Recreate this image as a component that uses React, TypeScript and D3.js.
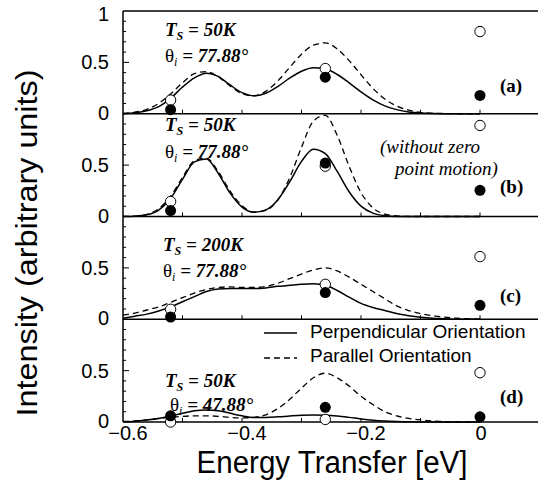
import React from "react";
import * as d3 from "d3";

// energy grid of the computed curves (eV)
const energies = [
  -0.6, -0.58, -0.56, -0.54, -0.52, -0.5, -0.48, -0.46, -0.44, -0.42, -0.4,
  -0.38, -0.36, -0.34, -0.32, -0.3, -0.28, -0.26, -0.24, -0.22, -0.2, -0.18,
  -0.16, -0.14, -0.12, -0.1, -0.08, -0.06, -0.04, -0.02, 0,
];

// perpendicular orientation (solid)
const perpA = [0, 0.01, 0.03, 0.07, 0.15, 0.26, 0.35, 0.395, 0.363, 0.28, 0.206, 0.175, 0.2, 0.265, 0.346, 0.414, 0.448, 0.437, 0.382, 0.301, 0.213, 0.135, 0.077, 0.04, 0.018, 0.008, 0.003, 0, 0, 0, 0];
const perpB = [0, 0.003, 0.016, 0.062, 0.177, 0.362, 0.531, 0.559, 0.421, 0.227, 0.092, 0.041, 0.064, 0.161, 0.336, 0.536, 0.655, 0.612, 0.439, 0.241, 0.101, 0.033, 0.008, 0.001, 0, 0, 0, 0, 0, 0, 0];
const perpC = [0.01, 0.03, 0.05, 0.08, 0.12, 0.17, 0.22, 0.27, 0.295, 0.3, 0.3, 0.3, 0.305, 0.32, 0.33, 0.34, 0.345, 0.33, 0.28, 0.215, 0.155, 0.115, 0.085, 0.055, 0.035, 0.02, 0.01, 0.005, 0, 0, 0];
const perpD = [0.003, 0.008, 0.02, 0.035, 0.058, 0.085, 0.11, 0.118, 0.11, 0.085, 0.06, 0.045, 0.045, 0.05, 0.058, 0.065, 0.068, 0.066, 0.058, 0.045, 0.03, 0.018, 0.01, 0.005, 0.002, 0, 0, 0, 0, 0, 0];

// parallel orientation (dashed)
const paraA = [0.004, 0.015, 0.043, 0.1, 0.193, 0.3, 0.39, 0.41, 0.36, 0.27, 0.195, 0.173, 0.218, 0.318, 0.45, 0.58, 0.668, 0.69, 0.631, 0.517, 0.38, 0.247, 0.144, 0.075, 0.035, 0.014, 0.005, 0.002, 0, 0, 0];
const paraB = [0.001, 0.004, 0.021, 0.075, 0.197, 0.381, 0.543, 0.569, 0.438, 0.248, 0.105, 0.044, 0.059, 0.16, 0.375, 0.674, 0.928, 0.985, 0.79, 0.489, 0.232, 0.084, 0.023, 0.005, 0, 0, 0, 0, 0, 0, 0];
const paraC = [0.04, 0.06, 0.09, 0.12, 0.165, 0.21, 0.255, 0.29, 0.31, 0.315, 0.31, 0.31, 0.32, 0.35, 0.395, 0.44, 0.48, 0.5, 0.47, 0.41, 0.34, 0.27, 0.2, 0.13, 0.085, 0.055, 0.035, 0.02, 0.01, 0.005, 0];
const paraD = [0.005, 0.01, 0.02, 0.035, 0.045, 0.055, 0.06, 0.06, 0.055, 0.045, 0.04, 0.045, 0.07, 0.13, 0.22, 0.33, 0.43, 0.475, 0.43, 0.35, 0.25, 0.17, 0.1, 0.06, 0.035, 0.02, 0.01, 0.005, 0, 0, 0];

// measured points
const markerEnergies = [-0.52, -0.26, 0];
const openA = [0.133, 0.44, 0.8];
const filledA = [0.04, 0.356, 0.178];
const openB = [0.146, 0.49, 0.886];
const filledB = [0.058, 0.52, 0.255];
const openC = [0.097, 0.34, 0.61];
const filledC = [0.022, 0.26, 0.136];
const openD = [0, 0.025, 0.48];
const filledD = [0.06, 0.143, 0.05];

const temps = ["50K", "50K", "200K", "50K"];
const angles = ["77.88°", "77.88°", "77.88°", "47.88°"];
const letters = ["(a)", "(b)", "(c)", "(d)"];
const xTickLabels = ["−0.6", "−0.4", "−0.2", "0"];
const xTickValues = [-0.6, -0.4, -0.2, 0];

const panels = [
  { perp: perpA, para: paraA, open: openA, filled: filledA },
  { perp: perpB, para: paraB, open: openB, filled: filledB },
  { perp: perpC, para: paraC, open: openC, filled: filledC },
  { perp: perpD, para: paraD, open: openD, filled: filledD },
];

const W = 538;
const H = 487;
const top0 = 11;
const ph = 102.75;
const left = 123;
const sans = "'Liberation Sans', Arial, Helvetica, sans-serif";
const serif = "'Liberation Serif', 'Times New Roman', Times, serif";

// annotation placement per panel: x, baseline of T line, baseline of theta line, x of theta line
const notePos = [
  [165, 36, 62, 165],
  [165, 131, 158, 165],
  [163, 251, 277, 163],
  [165, 387, 411, 170],
];
const letterBase = [92, 193, 302, 403];

export default function App() {
  const x = d3.scaleLinear().domain([-0.6, 0.1]).range([left, 539.5]);
  const minorX = d3.range(-5, 1).map((d) => d / 10);
  const minorY = d3.range(1, 10).map((d) => d / 10);

  return (
    <svg
      width={W}
      height={H}
      style={{ position: "absolute", left: 0, top: 0, background: "#fff" }}
    >
      <rect width={W} height={H} fill="#fff" />
      {panels.map((p, i) => {
        const t = top0 + i * ph;
        const y = d3.scaleLinear().domain([0, 1]).range([t + ph, t]);
        const line = d3
          .line<number>()
          .x((_, j) => x(energies[j]))
          .y((d) => y(d))
          .curve(d3.curveMonotoneX);
        const [nx, b1, b2, nx2] = notePos[i];
        return (
          <g key={i}>
            <path d={line(p.para) || ""} fill="none" stroke="#000" strokeWidth={1.3} strokeDasharray="6,4" />
            <path d={line(p.perp) || ""} fill="none" stroke="#000" strokeWidth={1.5} />
            {/* bottom line of the panel */}
            <line x1={left} x2={W} y1={y(0)} y2={y(0)} stroke="#000" strokeWidth={1.5} />
            {minorX.map((v) => (
              <line key={v} x1={x(v)} x2={x(v)} y1={y(0)} y2={y(0) - 4} stroke="#000" strokeWidth={1} />
            ))}
            {minorY.map((v) => (
              <line key={v} x1={left} x2={left + (v === 0.5 ? 6 : 3)} y1={y(v)} y2={y(v)} stroke="#000" strokeWidth={1} />
            ))}
            <text x={109} y={y(0.5)} dy="0.35em" textAnchor="end" fontFamily={sans} fontSize={20}>0.5</text>
            <text x={109} y={y(0) - 1} dy="0.35em" textAnchor="end" fontFamily={sans} fontSize={20}>0</text>
            {p.open.map((v, j) => (
              <circle key={"o" + j} cx={x(markerEnergies[j])} cy={y(v)} r={5.2} fill="#fff" stroke="#000" strokeWidth={1} />
            ))}
            {p.filled.map((v, j) => (
              <circle key={"f" + j} cx={x(markerEnergies[j])} cy={y(v)} r={5.5} fill="#000" />
            ))}
            <text x={nx} y={b1} fontFamily={serif} fontWeight="bold" fontStyle="italic" fontSize={19}>
              T<tspan dy={4} fontSize={12}>S</tspan>
              <tspan dy={-4}> = {temps[i]}</tspan>
            </text>
            <text x={nx2} y={b2} fontFamily={serif} fontSize={19}>
              θ<tspan dy={4} fontSize={12} fontStyle="italic">i</tspan>
              <tspan dy={-4} fontWeight="bold" fontStyle="italic"> = {angles[i]}</tspan>
            </text>
            <text x={500} y={letterBase[i]} fontFamily={serif} fontWeight="bold" fontSize={19}>{letters[i]}</text>
          </g>
        );
      })}
      {/* frame */}
      <line x1={left} x2={W} y1={top0} y2={top0} stroke="#000" strokeWidth={1.5} />
      <line x1={left} x2={left} y1={top0} y2={top0 + 4 * ph} stroke="#000" strokeWidth={1.5} />
      <text x={109} y={14} dy="0.35em" textAnchor="end" fontFamily={sans} fontSize={20}>1</text>

      <text x={380} y={153} fontFamily={serif} fontStyle="italic" fontSize={19}>(without zero</text>
      <text x={395} y={175} fontFamily={serif} fontStyle="italic" fontSize={19}>point motion)</text>

      {/* legend */}
      <line x1={264} x2={297} y1={333} y2={333} stroke="#000" strokeWidth={1.5} />
      <line x1={264} x2={297} y1={358} y2={358} stroke="#000" strokeWidth={1.3} strokeDasharray="6,4" />
      <text x={310} y={338} fontFamily={sans} fontSize={19}>Perpendicular Orientation</text>
      <text x={310} y={362} fontFamily={sans} fontSize={19}>Parallel Orientation</text>

      {xTickValues.map((v, i) => (
        <text key={v} x={x(v) + (v === 0 ? 1 : 5)} y={440} textAnchor="middle" fontFamily={sans} fontSize={20}>{xTickLabels[i]}</text>
      ))}
      <text x={332} y={473} textAnchor="middle" fontFamily={sans} fontSize={31} textLength={271} lengthAdjust="spacingAndGlyphs">Energy Transfer [eV]</text>
      <text transform="translate(37,243) rotate(-90)" textAnchor="middle" fontFamily={sans} fontSize={30} textLength={347} lengthAdjust="spacingAndGlyphs">Intensity (arbitrary units)</text>
    </svg>
  );
}
